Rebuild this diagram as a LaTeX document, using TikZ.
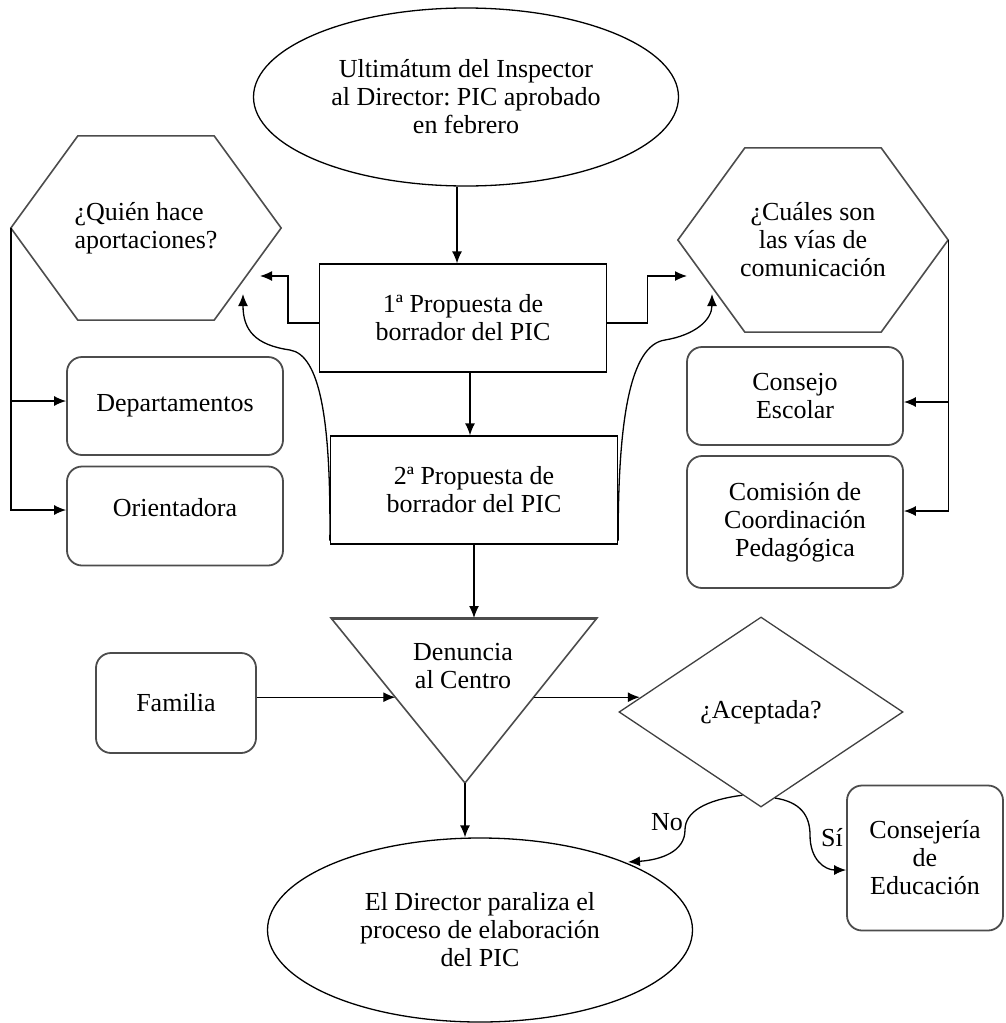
\documentclass[tikz,border=0pt]{standalone}
\usepackage{fontspec}
\setmainfont{Liberation Serif}
\usetikzlibrary{shapes.geometric}
\usetikzlibrary{arrows.meta}
\usetikzlibrary{calc}
\usetikzlibrary{positioning}

\begin{document}
\begin{tikzpicture}[
  x=1pt, y=-1pt,
  line width=1.3pt,
  every node/.style={font=\fontsize{26}{28}\selectfont, align=center, inner sep=2pt},
  oval/.style={draw, ellipse, minimum width=425pt, minimum height=178pt},
  borrador/.style={draw, rectangle, minimum width=287pt, minimum height=108pt},
  hexa/.style={rectangle, minimum width=269pt, minimum height=183pt},
  caja/.style={draw=black!70, rounded corners=15pt, line width=1.8pt, minimum width=216pt},
  rombo/.style={draw=black!75, diamond, minimum width=284pt, minimum height=190pt},
  gris/.style={draw=black!70, line width=1.6pt},
  ar/.style={-{Latex[length=12pt,width=10pt]}},
  ]
  \useasboundingbox (0,0) rectangle (1005,1023);

  % formas
  \node[oval] (ult) at (466,97) {Ultimátum del Inspector\\al Director:\ PIC aprobado\\en febrero};
  \node[hexa, align=left] (quien) at (146,228) {¿Quién hace\\aportaciones?};
  \node[hexa] (vias) at (813,240) {¿Cuáles son\\las vías de\\comunicación};
  \node[borrador] (p1) at (463,318) {1ª Propuesta de\\borrador del PIC};
  \node[borrador] (p2) at (474,490) {2ª Propuesta de\\borrador del PIC};
  \node[caja, minimum height=98pt] (dep) at (175,406) {Departamentos};
  \node[caja, minimum height=99pt, text depth=18pt] (ori) at (175,516) {Orientadora};
  \node[caja, minimum height=98pt] (cons) at (795,396) {Consejo\\Escolar};
  \node[caja, minimum height=132pt] (comi) at (795,522) {Comisión de\\Coordinación\\Pedagógica};
  \node[caja, minimum width=160pt, minimum height=100pt] (fam) at (176,703) {Familia};
  \node (den) at (463,666) {Denuncia\\al Centro};
  \node[rombo] (acep) at (761,712) {¿Aceptada?};
  \node[oval, minimum height=184pt] (dir) at (480,930) {El Director paraliza el\\proceso de elaboración\\del PIC};
  \node[caja, minimum width=156pt, minimum height=145pt] (conse) at (925,858) {Consejería\\de\\Educación};

  \foreach \h in {quien,vias}
    \draw[gris] (\h.west) -- ([xshift=67pt]\h.north west) -- ([xshift=-67pt]\h.north east)
      -- (\h.east) -- ([xshift=-67pt]\h.south east) -- ([xshift=67pt]\h.south west) -- cycle;

  \coordinate (tl) at (331,618);
  \coordinate (tr) at (597,618);
  \coordinate (tb) at (465,783);
  \draw[gris] (tl) -- (tr) -- (tb) -- cycle;
  \draw[gris, line width=3pt] (tl) -- (tr);

  % flechas
  \draw[ar] ([xshift=-9pt]ult.south) -- ([xshift=-9pt]ult.south |- p1.north);
  \draw[ar] ([xshift=7pt]p1.south) -- ([xshift=7pt]p1.south |- p2.north);
  \draw[ar] (p2.south) -- (p2.south |- tl);

  \coordinate (qin) at (260,276);
  \coordinate (vin) at (687,276);
  \coordinate (qup) at (243,294);
  \coordinate (vup) at (712,294);
  \draw[ar] ([yshift=-5pt]p1.west) -- ++(-31,0) |- (qin);
  \draw[ar] ([yshift=-5pt]p1.east) -- ++(40,0) |- (vin);
  \draw[ar] ([yshift=4pt]p2.south west) .. controls (331,420) and (320,355) .. (290,350)
    .. controls (255,345) and (243,330) .. (qup);
  \draw[ar] ([yshift=4pt]p2.south east) .. controls (618,420) and (630,345) .. (665,340)
    .. controls (695,335) and (712,320) .. (vup);

  \draw[ar] (quien.west) |- ([yshift=5pt]dep.west);
  \draw[ar] (quien.west) |- ([yshift=6pt]ori.west);
  \draw[ar] (vias.east) |- ([yshift=-6pt]cons.east);
  \draw[ar] (vias.east) |- ([yshift=11pt]comi.east);

  \coordinate (den-l) at ($(tl)!0.48!(tb)$);
  \coordinate (den-r) at ($(tr)!0.48!(tb)$);
  \coordinate (acep-in) at ($(acep.west)!0.15!(acep.north)$);
  \draw[ar] (fam.east |- den-l) -- (den-l);
  \draw[ar] (den-r) -- (den-r -| acep-in);
  \draw[ar] (tb) -- (tb |- dir.north);

  \coordinate (no-a) at ($(acep.south)!0.13!(acep.west)$);
  \coordinate (si-a) at ($(acep.south)!0.1!(acep.east)$);
  \coordinate (no-b) at (628,862);
  \draw[ar] (no-a) .. controls (705,800) and (685,812) .. (685,830)
    .. controls (685,852) and (660,860) .. (no-b);
  \draw[ar] (si-a) .. controls (800,802) and (810,815) .. (810,835)
    .. controls (810,860) and (825,870) .. ([yshift=-12pt]conse.west);
  \node (lno) at (667,822) {No};
  \node (lsi) at (832,838) {Sí};
\end{tikzpicture}
\end{document}
